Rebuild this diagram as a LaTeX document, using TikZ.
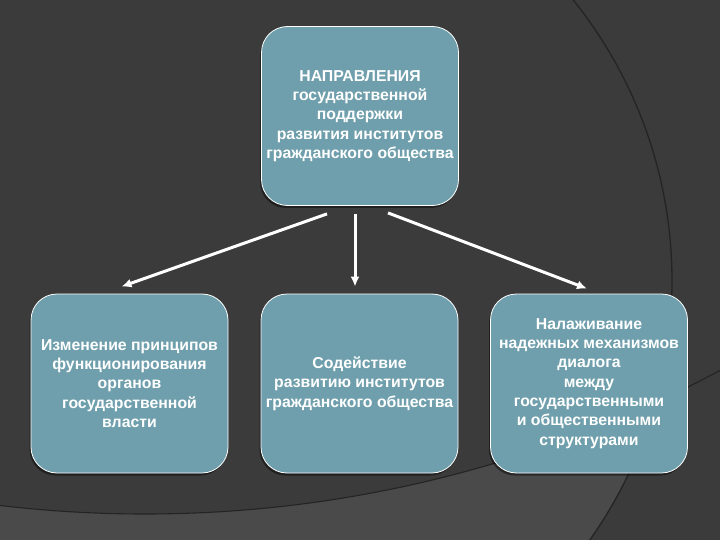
\documentclass[tikz,border=0pt]{standalone}
\usepackage{fontspec}
\setmainfont{Liberation Sans}
\usetikzlibrary{shadows,arrows.meta}
\definecolor{cBg}{RGB}{59,59,59}
\definecolor{cBgLight}{RGB}{74,74,74}
\definecolor{cArc}{RGB}{36,36,36}
\definecolor{cBox}{RGB}{111,159,172}
\begin{document}
\begin{tikzpicture}[x=1pt,y=-1pt,
  box/.style={draw=white,line width=0.8pt,fill=cBox,rounded corners=26pt,
    minimum width=197pt,minimum height=179pt,align=center,text=white,
    font=\bfseries\fontsize{15.8}{19.3}\selectfont,inner sep=1pt,
    drop shadow={shadow xshift=-1.5pt,shadow yshift=-2.5pt,opacity=0.45,fill=black}},
  arr/.style={white,line width=3pt,-{Latex[length=10pt,width=9pt]}}]
\useasboundingbox (0,0) rectangle (720,540);
\fill[cBg] (0,0) rectangle (720,540);
\begin{scope}
\clip (0,0) rectangle (720,540);
\begin{scope}
\clip (223,281) circle (449pt);
\fill[cBgLight,even odd rule] (0,0) rectangle (720,540) (145,-707) circle (1221pt);
\end{scope}
\draw[cArc,line width=1.3pt] (223,281) circle (449pt);
\draw[cArc,line width=1.1pt] (145,-707) circle (1221pt);
\end{scope}
\node[box] (top) at (360,116) {НАПРАВЛЕНИЯ\\государственной\\поддержки\\развития институтов\\гражданского общества};
\node[box] (lft) at (129.5,383.5) {Изменение принципов\\функционирования\\органов\\государственной\\власти};
\node[box] (mid) at (359.5,383.5) {Содействие\\развитию институтов\\гражданского общества};
\node[box] (rgt) at (589,383.5) {Налаживание\\надежных механизмов\\диалога\\между\\государственными\\и общественными\\структурами};
\draw[arr] ([xshift=-33pt,yshift=-8pt]top.south) -- ([xshift=-8pt,yshift=7pt]lft.north);
\draw[arr] ([xshift=-5pt,yshift=-8pt]top.south) -- ([xshift=-4.5pt,yshift=7pt]mid.north);
\draw[arr] ([xshift=28pt,yshift=-7pt]top.south) -- ([xshift=-2pt,yshift=5pt]rgt.north);
\end{tikzpicture}
\end{document}
